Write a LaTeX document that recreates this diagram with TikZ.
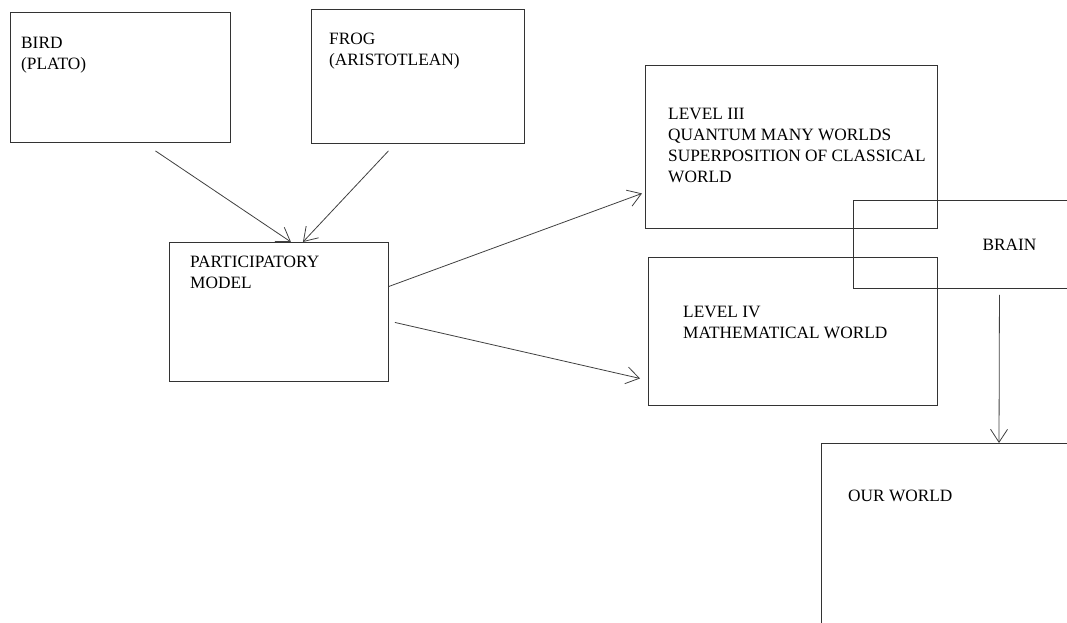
\documentclass[tikz,border=0pt]{standalone}
\usepackage{fontspec}
\setmainfont{Liberation Serif}
\usepackage{tikz}
\usetikzlibrary{arrows.meta,positioning,calc}

\tikzset{
  boite/.style={draw=black!80, line width=0.9pt, rectangle, anchor=north west, inner sep=0pt},
  texte/.style={anchor=north west, inner sep=0pt, align=left, font=\fontsize{17.3}{21}\selectfont},
  fleche/.style={draw=black!75, line width=0.8pt, -{Straight Barb[length=13pt, width=17pt]}}
}

\begin{document}
\begin{tikzpicture}[x=1pt, y=-1pt]
% Cadre
\useasboundingbox (0,0) rectangle (1067,623);
\clip (0,0) rectangle (1067,623);

% Boites
\node[boite, minimum width=220, minimum height=130] (bird) at (10,12) {};
\node[boite, minimum width=213, minimum height=134] (frog) at (311,9) {};
\node[boite, minimum width=219, minimum height=139] (part) at (169,242) {};
\node[boite, minimum width=292, minimum height=163] (lvthree) at (645,65) {};
\node[boite, minimum width=289, minimum height=148] (lvfour) at (648,257) {};
\node[boite, minimum width=312, minimum height=88, font=\fontsize{17.3}{21}\selectfont] (brain) at (853,200) {BRAIN};
\node[boite, minimum width=300, minimum height=250] (ourworld) at (821,443) {};

% Textes
\node[texte] (birdtxt) at (21,37) {BIRD\\(PLATO)};
\node[texte] (frogtxt) at (329,33) {FROG\\(ARISTOTLEAN)};
\node[texte] (parttxt) at (190,256) {PARTICIPATORY\\MODEL};
\node[texte] (lvthreetxt) at (668,108) {LEVEL III\\QUANTUM MANY WORLDS\\SUPERPOSITION OF CLASSICAL\\WORLD};
\node[texte] (lvfourtxt) at (683,306) {LEVEL IV\\MATHEMATICAL WORLD};
\node[texte] (ourworldtxt) at (848,490) {OUR WORLD};

% Points de depart
\coordinate (birdout) at ([xshift=35pt, yshift=-8pt]bird.south);
\coordinate (frogout) at ([xshift=-29.5pt, yshift=-7pt]frog.south);

% Fleches
\draw[fleche] (birdout) -- ([xshift=12pt]part.north);
\draw[fleche] (frogout) -- ([xshift=24pt]part.north);
\draw[fleche] ([yshift=25.5pt]part.east) -- ([xshift=-3pt, yshift=-46.5pt]lvthree.west);
\draw[fleche] ([xshift=6pt, yshift=-10.5pt]part.east) -- ([xshift=-8pt, yshift=-47pt]lvfour.west);
\draw[fleche] ([xshift=-10pt, yshift=-6pt]brain.south) -- ([xshift=178pt]ourworld.north west);

\end{tikzpicture}
\end{document}
